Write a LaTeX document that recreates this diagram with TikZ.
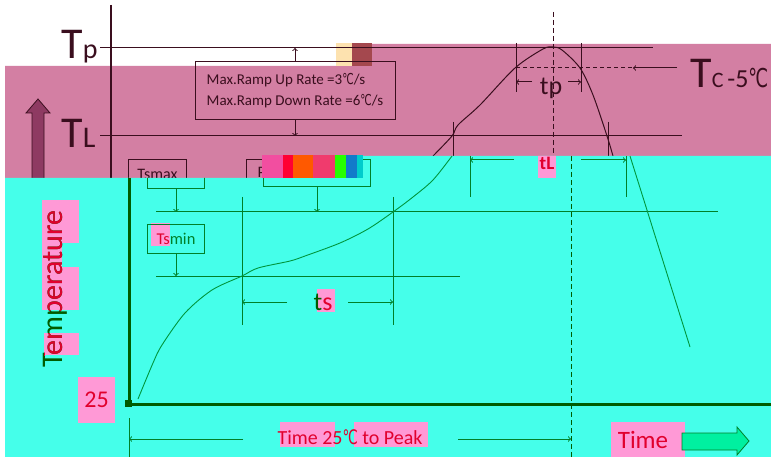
\documentclass[tikz,border=0pt]{standalone}
\usepackage{fontspec}
\setmainfont{Carlito}
\newfontfamily\degfont{DejaVu Sans}
\usetikzlibrary{positioning}
\definecolor{bandpink}{RGB}{211,127,163}
\definecolor{bandcyan}{RGB}{69,255,234}
\definecolor{darkline}{RGB}{58,14,30}
\definecolor{grnline}{RGB}{0,128,40}
\definecolor{grnaxis}{RGB}{0,92,0}
\definecolor{grncurve}{RGB}{0,150,60}
\definecolor{hilite}{RGB}{255,153,214}
\definecolor{hitext}{RGB}{225,0,45}
\definecolor{upfill}{RGB}{142,58,98}
\definecolor{timearrow}{RGB}{0,240,160}
\newcommand{\degc}{{\degfont\scalebox{0.68}[1]{℃}}}
\begin{document}
\begin{tikzpicture}[x=1pt,y=-1pt,line width=1pt,
  dk/.style={draw=darkline},
  gr/.style={draw=grnline},
  lbl/.style={inner sep=0pt}]
\useasboundingbox (0,0) rectangle (771,457);
\fill[white] (0,0) rectangle (771,457);
\fill[bandpink] (5,66) -- (336,66) -- (336,44) -- (771,44) -- (771,178) -- (5,178) -- cycle;
\fill[yellow!30!pink!60] (336,43) rectangle (352,66);
\fill[upfill!80!orange] (352,43) rectangle (372,66);
% upper part
\draw[darkline, line width=2.5pt] (111,5) -- (111,178);
\coordinate (tpL) at (100,48);
\coordinate (tpR) at (653,48);
\coordinate (tlL) at (100,136);
\coordinate (tlR) at (682,136);
\draw[dk] (tpL) -- (tpR);
\draw[dk] (tlL) -- (tlR);
\node[lbl, text=darkline, anchor=base west] (tplbl) at (61,59) {\fontsize{44}{44}\selectfont T\fontsize{28}{28}\selectfont p};
\node[lbl, text=darkline, anchor=base west] (tllbl) at (61,148) {\fontsize{44}{44}\selectfont T\fontsize{30}{30}\selectfont L};
\node[dk, text=darkline, minimum width=200, minimum height=58, align=left, inner sep=0pt, font=\fontsize{15}{21}\selectfont] (ratebox) at (295,91) {Max.Ramp Up Rate =3\degc/s\\Max.Ramp Down Rate =6\degc/s};
\draw[dk, ->] (ratebox.north) -- (ratebox.north |- tpL);
\draw[dk, ->] (ratebox.south) -- (ratebox.south |- tlL);
\draw[dk] plot[smooth, tension=0.5] coordinates {(433,156) (452,136) (458,125) (480,105) (515,68) (543,49) (553,47) (562,50) (580,68) (593,95) (607,136) (613,156)};
\draw[dk, dash pattern=on 5pt off 3pt] (553,12) -- (553,156);
\draw[dk] (516,43) -- (516,92);
\draw[dk] (581,43) -- (581,92);
\coordinate (tpA) at (516,82);
\coordinate (tpB) at (581,82);
\draw[dk, ->] (532,82) -- (tpA);
\draw[dk, ->] (568,82) -- (tpB);
\node[lbl, text=darkline, font=\fontsize{26}{26}\selectfont] (tplabel) at (551,88) {tp};
\coordinate (tcdash) at (516,68);
\coordinate (tchead) at (633,68);
\coordinate (tctail) at (677,68);
\draw[dk, dash pattern=on 4pt off 3pt] (tcdash) -- (tchead);
\draw[dk, ->] (tctail) -- (tchead);
\node[lbl, text=darkline, anchor=base west] (tclbl) at (690,88) {\fontsize{44}{44}\selectfont T\fontsize{22}{22}\selectfont C\,\fontsize{26}{26}\selectfont-5\degc};
\draw[dk] (453,122) -- (453,156);
\draw[dk] (608,122) -- (608,156);
\node[dk, text=darkline, minimum width=58, minimum height=29, anchor=north west, inner sep=0pt, font=\fontsize{16}{16}\selectfont] (tsmaxtop) at (128,159) {Tsmax};
\node[dk, minimum width=123, minimum height=29, anchor=north west] (preheattop) at (246,159) {};
\node[lbl, text=darkline, anchor=base west, font=\fontsize{16}{16}\selectfont] (prlbl) at (257,178) {Pr};
\draw[darkline, fill=upfill, line width=0.8pt] (32,178) -- (32,113) -- (26,113) -- (38,99) -- (50,113) -- (44,113) -- (44,178);
% lower part
\fill[bandcyan] (5,178) -- (262,178) -- (262,156) -- (771,156) -- (771,457) -- (5,457) -- cycle;
\begin{scope}
\clip (5,178) -- (262,178) -- (262,156) -- (771,156) -- (771,457) -- (5,457) -- cycle;
\draw[grnaxis, line width=3pt] (129,178) -- (129,404) -- (771,404);
\fill[grnaxis] (125,400) rectangle (132,407);
\coordinate (smaxL) at (156,212);
\coordinate (smaxR) at (718,212);
\coordinate (sminL) at (156,276);
\coordinate (sminR) at (460,276);
\draw[gr] (smaxL) -- (smaxR);
\draw[gr] (sminL) -- (sminR);
\node[gr, minimum width=57, minimum height=29, anchor=north west, inner sep=0pt] (tsmaxbox) at (147,159) {};
\draw[gr, ->] (tsmaxbox.south) -- (tsmaxbox.south |- smaxL);
\fill[hilite] (151,223) rectangle (170,246);
\node[gr, minimum width=57, minimum height=29, anchor=north west, inner sep=0pt, font=\fontsize{16.5}{16.5}\selectfont] (tsminbox) at (147,224) {\textcolor{hitext}{Ts}\textcolor{grnline}{min}};
\draw[gr, ->] (tsminbox.south) -- (tsminbox.south |- sminL);
\node[gr, minimum width=107, minimum height=27, anchor=north west] (preheatbox) at (263,159) {};
\draw[gr, ->] (preheatbox.south) -- (preheatbox.south |- smaxL);
\draw[gr] (242,197) -- (242,325);
\draw[gr] (393,197) -- (393,325);
\coordinate (tsA) at (242,302);
\coordinate (tsB) at (393,302);
\coordinate (tsAt) at (287,302);
\coordinate (tsBt) at (348,302);
\draw[gr, ->] (tsAt) -- (tsA);
\draw[gr, ->] (tsBt) -- (tsB);
\fill[hilite] (317,289) rectangle (335,312);
\node[lbl, font=\fontsize{26}{26}\selectfont] (tslbl) at (323,302) {\textcolor{grnaxis}{t}\textcolor{hitext}{s}};
\draw[gr] (470,156) -- (470,197);
\draw[gr] (626,156) -- (626,197);
\coordinate (tlA) at (470,160);
\coordinate (tlB) at (626,160);
\coordinate (tlAt) at (514,160);
\coordinate (tlBt) at (581,160);
\draw[gr, ->] (tlAt) -- (tlA);
\draw[gr, ->] (tlBt) -- (tlB);
\fill[hilite] (538,152) rectangle (556,178);
\node[lbl, text=hitext, font=\bfseries\fontsize{19}{19}\selectfont] (tllabel) at (547,163) {tL};
\draw[grnaxis, dash pattern=on 5pt off 3pt] (571,156) -- (571,457);
\draw[grncurve, line width=0.9pt] plot[smooth, tension=0.5] coordinates {(138,399) (153,363) (162,345) (185,313) (212,290) (242,276) (258,268) (290,261) (305,256) (340,243) (368,229) (393,212) (413,197) (433,180) (452,156)};
\draw[grncurve, line width=0.9pt] (630,156) -- (690,347);
\end{scope}
\foreach \gx/\gw/\gc in {262/21/magenta!60!pink, 283/10/red!80!magenta, 293/20/orange!70!red, 313/22/magenta!60!orange, 335/11/green!80!lime, 346/11/cyan!60!blue, 357/6/teal!40!cyan}
  \fill[\gc] (\gx,155) rectangle ++(\gw,23);
% labels
\fill[hilite] (42,200) rectangle (79,243);
\fill[hilite] (42,243) rectangle (62,267);
\fill[hilite] (42,267) rectangle (79,310);
\fill[hilite] (44,333) rectangle (79,355);
\node[lbl, rotate=90, text=grnaxis, font=\fontsize{30}{30}\selectfont] (templbl) at (55,289) {Temperature};
\begin{scope}
\clip (42,200) rectangle (79,243) (42,243) rectangle (62,267) (42,267) rectangle (79,310) (44,333) rectangle (79,355);
\node[lbl, rotate=90, text=hitext, font=\fontsize{30}{30}\selectfont] (templblhi) at (55,289) {Temperature};
\end{scope}
\node[fill=hilite, text=hitext, minimum width=37, minimum height=46, inner sep=0pt, font=\fontsize{24}{24}\selectfont] (origlbl) at (96.5,400) {25};
\draw[gr] (129,418) -- (129,457);
\coordinate (t25) at (129,439);
\coordinate (t25t) at (243,439);
\coordinate (tpk) at (571,439);
\coordinate (tpkt) at (458,439);
\draw[gr, ->] (t25t) -- (t25);
\draw[gr, ->] (tpkt) -- (tpk);
\fill[hilite] (280,422) rectangle (335,447);
\fill[hilite] (354,422) rectangle (428,447);
\node[lbl, text=hitext, font=\fontsize{20}{20}\selectfont] (timepeak) at (350,437) {Time 25\degc{} to Peak};
\fill[hilite] (611,422) rectangle (685,457);
\node[lbl, text=hitext, font=\fontsize{25}{25}\selectfont] (timelbl) at (643,440) {Time};
\draw[grnline, fill=timearrow, line width=0.8pt] (682,433) -- (737,433) -- (737,427) -- (749,441) -- (737,455) -- (737,450) -- (682,450) -- cycle;
\end{tikzpicture}
\end{document}
